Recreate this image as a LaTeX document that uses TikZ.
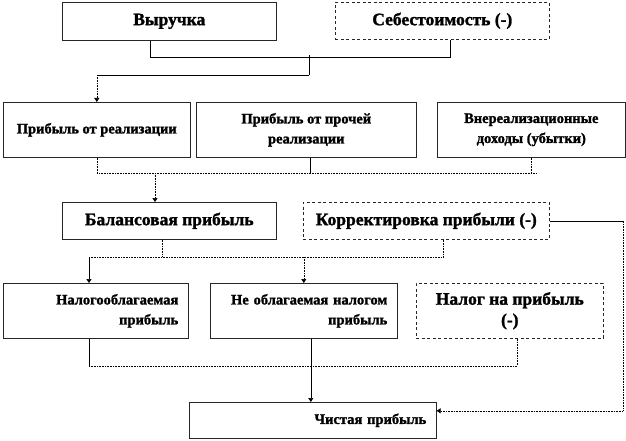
\documentclass[tikz,border=0pt]{standalone}
\usepackage{fontspec}
\setmainfont{Liberation Serif}[BoldFeatures={FakeBold=1.5}]
\usepackage{tikz}
\usetikzlibrary{arrows.meta,positioning,calc}
\newcommand{\fgrande}{\fontsize{17.5}{21}\selectfont}
\newcommand{\fmedio}{\fontsize{14.5}{20}\selectfont}
\tikzset{
  caja/.style     = {draw=black!85, line width=0.6pt, anchor=north west,
                     align=center, inner sep=0pt, font=\bfseries\fmedio},
  cajaneg/.style  = {caja, dashed, dash pattern=on 3pt off 2.5pt},
  cajader/.style  = {caja, align=right, inner xsep=10pt},
  linea/.style    = {line width=0.6pt},
  lineap/.style   = {line width=0.6pt, densely dotted},
  flecha/.style   = {linea, -{Triangle[width=5pt,length=4pt]}},
  flechap/.style  = {lineap, -{Triangle[width=5pt,length=4pt]}},
}
\begin{document}
\begin{tikzpicture}[x=1pt,y=-1pt]
  \useasboundingbox (0,0) rectangle (626,441);
  % nivel 1
  \node[caja, minimum width=214pt, minimum height=38pt, font=\bfseries\fgrande] (vyr) at (62,2) {Выручка};
  \node[cajaneg, minimum width=214pt, minimum height=37pt, font=\bfseries\fgrande] (seb) at (335,2) {Себестоимость (-)};
  % nivel 2
  \node[caja, minimum width=187pt, minimum height=55pt] (prr) at (3,102) {Прибыль от реализации};
  \node[caja, minimum width=220pt, minimum height=55pt] (prp) at (196,102) {Прибыль от прочей\\реализации};
  \node[caja, minimum width=188pt, minimum height=55pt] (vnr) at (437,102) {Внереализационные\\доходы (убытки)};
  % nivel 3
  \node[caja, minimum width=214pt, minimum height=37pt, font=\bfseries\fgrande] (bal) at (62,202) {Балансовая прибыль};
  \node[cajaneg, minimum width=246pt, minimum height=37pt, font=\bfseries\fgrande] (kor) at (303,202) {Корректировка прибыли (-)};
  % nivel 4
  \node[cajader, text width=165pt, minimum height=55pt] (nob) at (3,283) {Налогооблагаемая\\прибыль};
  \node[cajader, text width=167pt, minimum height=55pt] (neo) at (210,283) {Не облагаемая налогом\\прибыль};
  \node[cajaneg, minimum width=187pt, minimum height=55pt, font=\bfseries\fgrande] (npr) at (416,283) {Налог на прибыль\\(-)};
  % nivel 5
  \node[cajader, text width=227pt, minimum height=36pt] (chp) at (189,402) {Чистая прибыль};
  % uniones
  \coordinate (j1) at (309,57);
  \coordinate (j2) at (309,75);
  \coordinate (j3) at (155,173);
  \coordinate (j4) at (89,257);
  \coordinate (j5) at (89,366);
  \coordinate (kr) at (623,410);
  \draw[linea] ([xshift=-19pt]vyr.south) |- (j1);
  \draw[linea] ([xshift=8pt]seb.south) |- (j1);
  \draw[linea] ([yshift=2pt]j1) -- (j2);
  \draw[linea] (j2) -- (j2 -| prr.north);
  \draw[flechap] (j2 -| prr.north) -- (prr.north);
  \draw[lineap] (prr.south) |- ([xshift=5pt]vnr.south |- j3);
  \draw[lineap] (vnr.south) -- (vnr.south |- j3);
  \draw[linea] ([xshift=4pt]prp.south) -- ([xshift=4pt]prp.south |- j3);
  \draw[flechap] (j3) -- (j3 |- bal.north);
  \draw[lineap] ([xshift=-7pt]bal.south) -- ([xshift=-7pt]bal.south |- j4);
  \draw[lineap] ([xshift=17pt]kor.south) |- (j4);
  \draw[flecha] (j4) -- (j4 |- nob.north);
  \draw[flechap] (j4 -| neo.north) -- (neo.north);
  \draw[linea] (j5 |- nob.south) -- (j5);
  \draw[lineap] (j5) -| ([xshift=7pt]npr.south);
  \draw[flecha] ([xshift=7pt]neo.south) -- ([xshift=7pt]neo.south |- chp.north);
  \draw[linea] (kor.east) -- (kor.east -| kr);
  \draw[flechap] (kor.east -| kr) |- ([yshift=9.5pt]chp.east);
\end{tikzpicture}
\end{document}
